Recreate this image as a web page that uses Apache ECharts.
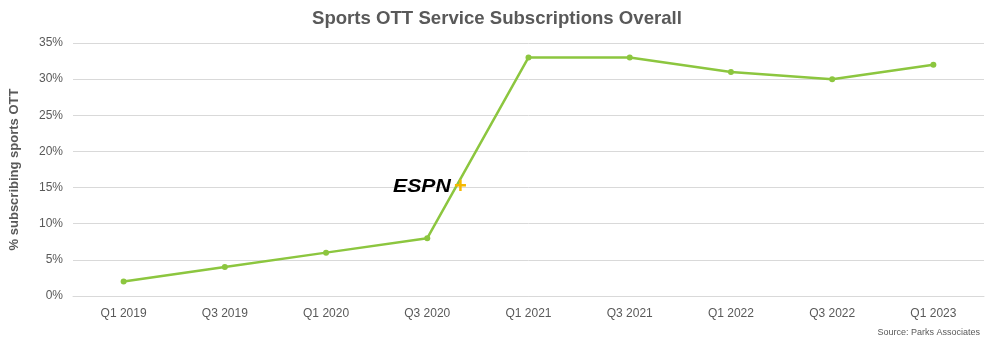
<!DOCTYPE html>
<html>
<head>
<meta charset="utf-8">
<script src="https://cdn.jsdelivr.net/npm/echarts@6/dist/echarts.min.js"></script>
<style>
  html, body { margin: 0; padding: 0; background: #fff; }
  #chart-container { width: 1000px; height: 347px; }
</style>
</head>
<body>
<div id="chart-container"></div>
<script>
var quarters = ['Q1 2019', 'Q3 2019', 'Q1 2020', 'Q3 2020', 'Q1 2021', 'Q3 2021', 'Q1 2022', 'Q3 2022', 'Q1 2023'];
var subscribing = [2, 4, 6, 8, 33, 33, 31, 30, 32];

var dom = document.getElementById('chart-container');
var myChart = echarts.init(dom, null, { renderer: 'canvas' });

var option = {
    backgroundColor: '#fff',
    animation: false,
    title: {
        text: 'Sports OTT Service Subscriptions Overall',
        left: 307,
        top: 4,
        textStyle: {
            fontFamily: 'Liberation Sans, Arial',
            fontSize: 18.6,
            fontWeight: 'bold',
            color: '#595959'
        }
    },
    grid: { left: 73, right: 16, top: 43, bottom: 51 },
    xAxis: {
        type: 'category',
        data: quarters,
        boundaryGap: true,
        axisLine: { lineStyle: { color: '#d9d9d9' } },
        axisTick: { show: false },
        axisLabel: { color: '#595959', fontSize: 12, margin: 12, fontFamily: 'Liberation Sans, Arial' }
    },
    yAxis: {
        type: 'value',
        min: 0,
        max: 35,
        interval: 5,
        name: '% subscribing sports OTT',
        nameLocation: 'middle',
        nameGap: 52,
        nameTextStyle: { color: '#595959', fontSize: 13, fontWeight: 'bold', fontFamily: 'Liberation Sans, Arial' },
        axisLine: { show: false },
        axisTick: { show: false },
        axisLabel: { color: '#595959', fontSize: 12, margin: 10, formatter: '{value}%', fontFamily: 'Liberation Sans, Arial' },
        splitLine: { lineStyle: { color: '#d9d9d9' } }
    },
    series: [{
        type: 'line',
        data: subscribing,
        symbol: 'circle',
        symbolSize: 6,
        itemStyle: { color: '#8cc63f' },
        lineStyle: { color: '#8cc63f', width: 2.5 },
        z: 3
    }],
    graphic: [
        {
            type: 'text',
            x: 393,
            y: 178,
            scaleX: 1.18,
            z: 5,
            style: {
                text: 'ESPN',
                font: 'italic 900 18px "Liberation Sans", Arial',
                fill: '#000'
            }
        },
        {
            type: 'text',
            x: 454,
            y: 176,
            z: 5,
            style: {
                text: '+',
                font: 'bold 22px "Liberation Sans", Arial',
                fill: '#f5b800'
            }
        },
        {
            type: 'text',
            right: 20,
            top: 328,
            style: {
                text: 'Source: Parks Associates',
                font: '9px "Liberation Sans", Arial',
                fill: '#595959'
            }
        }
    ]
};

myChart.setOption(option);
window.addEventListener('resize', myChart.resize);
</script>
</body>
</html>
